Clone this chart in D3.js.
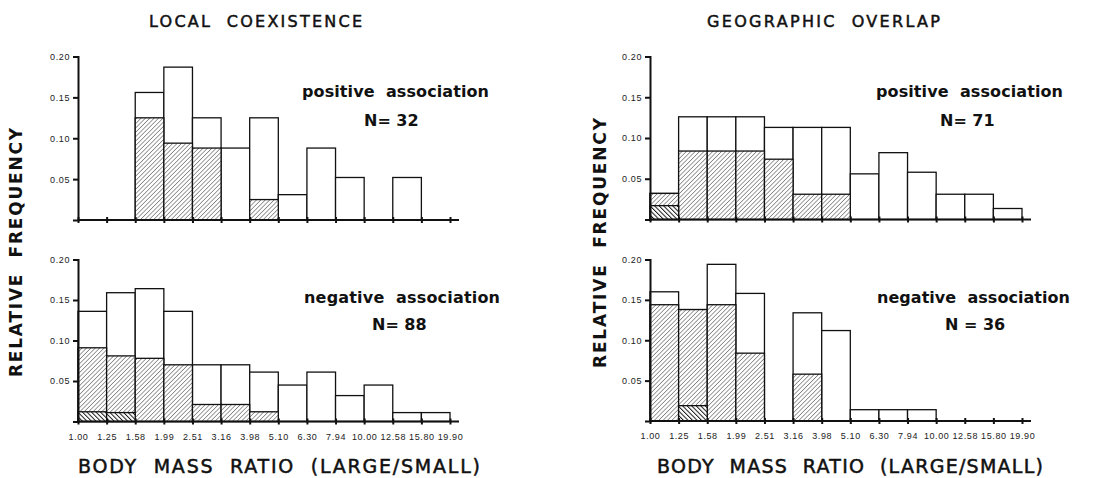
<!DOCTYPE html>
<html>
<head>
<meta charset="utf-8">
<script src="https://cdn.jsdelivr.net/npm/d3@7"></script>
<style>
  body { margin: 0; background: #fff; }
  svg { display: block; font-family: "DejaVu Sans", sans-serif; }
  svg text { white-space: pre; }
  .axis path, .axis line { stroke: #111; stroke-width: 2; }
  .axis text { font-family: "Liberation Sans", sans-serif; font-size: 9px; fill: #222; letter-spacing: 0.6px; }
</style>
</head>
<body>
<svg width="1120" height="478"></svg>
<script>
// bin edges of body mass ratio (large/small)
var edgeLabels = ["1.00", "1.25", "1.58", "1.99", "2.51", "3.16", "3.98", "5.10", "6.30", "7.94", "10.00", "12.58", "15.80", "19.90"];
var yTicks = [0.05, 0.10, 0.15, 0.20];

// local coexistence, positive association (N=32)
var localPosTotal = [0, 0, 0.156, 0.187, 0.125, 0.088, 0.125, 0.031, 0.088, 0.052, 0, 0.052, 0];
var localPosHatch = [0, 0, 0.125, 0.094, 0.088, 0, 0.025, 0, 0, 0, 0, 0, 0];
var localPosDark  = [0, 0, 0, 0, 0, 0, 0, 0, 0, 0, 0, 0, 0];

// local coexistence, negative association (N=88)
var localNegTotal = [0.136, 0.159, 0.164, 0.136, 0.070, 0.070, 0.061, 0.045, 0.061, 0.032, 0.045, 0.011, 0.011];
var localNegHatch = [0.091, 0.081, 0.078, 0.070, 0.021, 0.021, 0.012, 0, 0, 0, 0, 0, 0];
var localNegDark  = [0.012, 0.011, 0, 0, 0, 0, 0, 0, 0, 0, 0, 0, 0];

// geographic overlap, positive association (N=71)
var geoPosTotal = [0.032, 0.126, 0.126, 0.126, 0.113, 0.113, 0.113, 0.056, 0.082, 0.058, 0.031, 0.031, 0.0135];
var geoPosHatch = [0.032, 0.084, 0.084, 0.084, 0.074, 0.031, 0.031, 0, 0, 0, 0, 0, 0];
var geoPosDark  = [0.017, 0, 0, 0, 0, 0, 0, 0, 0, 0, 0, 0, 0];

// geographic overlap, negative association (N=36)
var geoNegTotal = [0.160, 0.138, 0.194, 0.158, 0, 0.134, 0.112, 0.014, 0.014, 0.014, 0, 0, 0];
var geoNegHatch = [0.144, 0.138, 0.144, 0.084, 0, 0.058, 0, 0, 0, 0, 0, 0, 0];
var geoNegDark  = [0, 0.019, 0, 0, 0, 0, 0, 0, 0, 0, 0, 0, 0];

var svg = d3.select("svg");
svg.append("rect").attr("width", 1120).attr("height", 478).attr("fill", "#fff");

var defs = svg.append("defs");

// light hatch: thin "/" lines
var light = defs.append("pattern")
  .attr("id", "light")
  .attr("patternUnits", "userSpaceOnUse")
  .attr("width", 3.1).attr("height", 3.1)
  .attr("patternTransform", "rotate(45)");
light.append("rect").attr("width", 3.1).attr("height", 3.1).attr("fill", "#fff");
light.append("line").attr("x1", 0).attr("y1", 0).attr("x2", 0).attr("y2", 3.1)
  .attr("stroke", "#222").attr("stroke-width", 0.9);

// dark hatch: heavy "\" lines
var dark = defs.append("pattern")
  .attr("id", "dark")
  .attr("patternUnits", "userSpaceOnUse")
  .attr("width", 3.2).attr("height", 3.2)
  .attr("patternTransform", "rotate(-45)");
dark.append("rect").attr("width", 3.2).attr("height", 3.2).attr("fill", "#fff");
dark.append("line").attr("x1", 0).attr("y1", 0).attr("x2", 0).attr("y2", 3.2)
  .attr("stroke", "#111").attr("stroke-width", 1.9);

function drawPanel(p) {
  var x = d3.scaleLinear().domain([0, 13]).range([p.left, p.right]);
  var y = d3.scaleLinear().domain([0, 0.2]).range([p.bottom, p.top]);
  var g = svg.append("g");
  var bins = d3.range(13);
  var bw = x(1) - x(0);

  function layer(values, fill) {
    g.selectAll(null)
      .data(bins.filter(function(i) { return values[i] > 0; }))
      .enter().append("rect")
      .attr("x", function(i) { return x(i); })
      .attr("y", function(i) { return y(values[i]); })
      .attr("width", bw)
      .attr("height", function(i) { return y(0) - y(values[i]); })
      .attr("fill", fill)
      .attr("stroke", "#111")
      .attr("stroke-width", 1.3);
  }

  layer(p.total, "#fff");
  layer(p.hatch, "url(#light)");
  layer(p.dark, "url(#dark)");

  // x axis, ticks cross the line
  var xa = g.append("g")
    .attr("class", "axis")
    .attr("transform", "translate(0," + p.bottom + ")")
    .call(d3.axisBottom(x)
      .tickValues(d3.range(14))
      .tickSizeOuter(0)
      .tickSize(3)
      .tickPadding(9)
      .tickFormat(function(d) { return p.labels ? edgeLabels[d] : ""; }));
  xa.select(".domain").remove();
  xa.selectAll(".tick line").attr("y1", -3).attr("y2", 3).attr("stroke-width", 1.5);
  xa.append("line")
    .attr("x1", p.left).attr("x2", p.right + 9)
    .attr("stroke", "#111").attr("stroke-width", 2);

  // y axis
  var ya = g.append("g")
    .attr("class", "axis")
    .attr("transform", "translate(" + p.left + ",0)")
    .call(d3.axisLeft(y)
      .tickValues(yTicks)
      .tickSizeOuter(0)
      .tickSize(5)
      .tickPadding(3)
      .tickFormat(d3.format(".2f")));
  ya.selectAll(".tick line").attr("stroke-width", 1.5);

  // association label and sample size
  label(p.name, p.assoc[0], p.assoc[1], p.assoc[2], 16, "bold");
  label(p.nText, p.n[0], p.n[1], null, 16, "bold");
}

function label(t, x, y, len, size, weight, rot) {
  var el = svg.append("text")
    .attr("x", x).attr("y", y)
    .attr("font-size", size).attr("font-weight", weight).attr("fill", "#111")
    .text(t);
  if (len) el.attr("textLength", len).attr("lengthAdjust", "spacing");
  if (weight === "normal") el.attr("stroke", "#111").attr("stroke-width", 0.5);
  if (rot) el.attr("transform", "rotate(-90," + x + "," + y + ")");
}

drawPanel({left: 78, right: 450, top: 56.5, bottom: 220, labels: false,
  total: localPosTotal, hatch: localPosHatch, dark: localPosDark,
  name: "positive  association", assoc: [302, 97, 187], nText: "N= 32", n: [364, 126]});
drawPanel({left: 78, right: 450, top: 259.5, bottom: 421.5, labels: true,
  total: localNegTotal, hatch: localNegHatch, dark: localNegDark,
  name: "negative  association", assoc: [304, 303, 196], nText: "N= 88", n: [372, 330]});
drawPanel({left: 650, right: 1022, top: 56.5, bottom: 219.5, labels: false,
  total: geoPosTotal, hatch: geoPosHatch, dark: geoPosDark,
  name: "positive  association", assoc: [876, 97, 187], nText: "N= 71", n: [940, 126]});
drawPanel({left: 650, right: 1022, top: 259.5, bottom: 421, labels: true,
  total: geoNegTotal, hatch: geoNegHatch, dark: geoNegDark,
  name: "negative  association", assoc: [877, 303, 193], nText: "N = 36", n: [945, 330]});

// titles
label("LOCAL  COEXISTENCE", 149, 27, 213, 16, "normal");
label("GEOGRAPHIC  OVERLAP", 707, 27, 233, 16, "normal");
label("RELATIVE  FREQUENCY", 22, 377, 249, 17, "bold", true);
label("RELATIVE  FREQUENCY", 606, 368, 250, 17, "bold", true);
label("BODY  MASS  RATIO  (LARGE/SMALL)", 78, 473, 402, 19, "normal");
label("BODY  MASS  RATIO  (LARGE/SMALL)", 657, 473, 386, 19, "normal");
</script>
</body>
</html>
